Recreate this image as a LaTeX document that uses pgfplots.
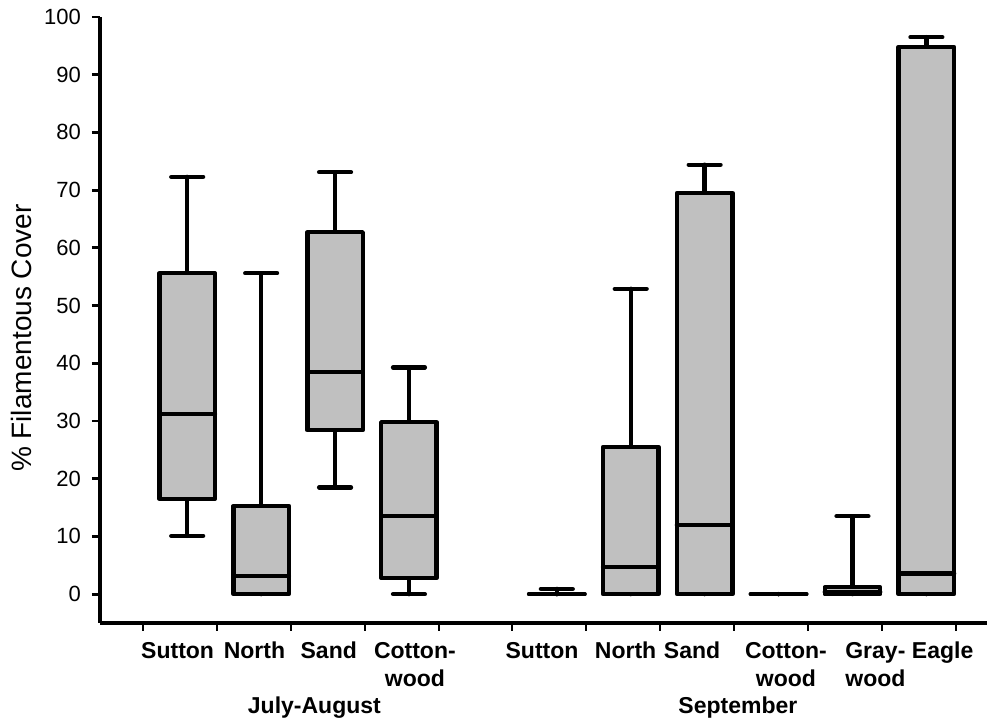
\documentclass[border=0pt]{standalone}
\usepackage{pgfplots}
\pgfplotsset{compat=1.18}
\usepgfplotslibrary{statistics}
\usepackage{fontspec}
\setmainfont{Liberation Sans}
\definecolor{boxgray}{HTML}{C0C0C0}
\begin{document}
\begin{tikzpicture}
\begin{axis}[
  scale only axis,
  width=443.5pt, height=303pt,
  xmin=-0.18, xmax=11.82, ymin=-5, ymax=100,
  clip=false,
  axis lines=left,
  axis line style={-, line width=1.6pt},
  tick align=outside,
  major tick length=4pt,
  ytick={0,10,20,30,40,50,60,70,80,90,100},
  ytick style={line width=1.4pt, black},
  xtick={0.4,1.4,2.4,3.4,4.4,5.4,6.4,7.4,8.4,9.4,10.4,11.4},
  xticklabels={},
  xtick style={line width=1pt, black},
  /pgf/number format/assume math mode=true,
  yticklabel style={font=\fontsize{11}{13}\selectfont, xshift=-2pt},
  extra x ticks={0.87,1.91,2.915,4.08,5.80,6.93,7.83,9.10,10.31,11.22},
  extra x tick labels={{\strut Sutton},{\strut North},{\strut Sand},{\strut Cotton-\\wood},{\strut Sutton},{\strut North},{\strut Sand},{\strut Cotton-\\wood},{\strut Gray-\\wood},{\strut Eagle}},
  extra x tick style={major tick length=0pt, tick label style={font=\fontsize{11.5}{14}\selectfont\bfseries, align=center, anchor=north, yshift=-4.2pt}},
  ylabel={\% Filamentous Cover},
  ylabel style={font=\fontsize{14}{16}\selectfont, at={(axis description cs:-0.088,0.47)}, anchor=center},
  boxplot/draw direction=y,
  boxplot/box extend=0.75,
  boxplot/whisker extend=0.43,
  bx/.style={draw=black, fill=boxgray, line width=2.2pt, line join=round, line cap=round, solid, mark=none},
]
% July-August
\addplot[bx, boxplot prepared={draw position=1, lower whisker=10.1, lower quartile=16.5, median=31.2, upper quartile=55.6, upper whisker=72.3}] coordinates {};
\addplot[bx, boxplot prepared={draw position=2, lower whisker=0, lower quartile=0, median=3.1, upper quartile=15.3, upper whisker=55.6}] coordinates {};
\addplot[bx, boxplot prepared={draw position=3, lower whisker=18.5, lower quartile=28.4, median=38.5, upper quartile=62.7, upper whisker=73.1}] coordinates {};
\addplot[bx, boxplot prepared={draw position=4, lower whisker=0, lower quartile=2.8, median=13.5, upper quartile=29.8, upper whisker=39.3}] coordinates {};
% September
\addplot[bx, boxplot prepared={draw position=6, lower whisker=0, lower quartile=0, median=0, upper quartile=0, upper whisker=0.9}] coordinates {};
\addplot[bx, boxplot prepared={draw position=7, lower whisker=0, lower quartile=0, median=4.7, upper quartile=25.5, upper whisker=52.9}] coordinates {};
\addplot[bx, boxplot prepared={draw position=8, lower whisker=0, lower quartile=0, median=12.0, upper quartile=69.5, upper whisker=74.4}] coordinates {};
\addplot[bx, boxplot prepared={draw position=9, lower whisker=0, lower quartile=0, median=0, upper quartile=0, upper whisker=0}] coordinates {};
\addplot[bx, boxplot prepared={draw position=10, lower whisker=0, lower quartile=0, median=0.4, upper quartile=1.2, upper whisker=13.5}] coordinates {};
\addplot[bx, boxplot prepared={draw position=11, lower whisker=0, lower quartile=0, median=3.6, upper quartile=94.8, upper whisker=96.5}] coordinates {};
\node[anchor=base, font=\fontsize{11.5}{14}\selectfont\bfseries, yshift=-45.5pt] at (axis cs:2.72,-5) {July-August};
\node[anchor=base, font=\fontsize{11.5}{14}\selectfont\bfseries, yshift=-45.5pt] at (axis cs:8.45,-5) {September};
\path (rel axis cs:0,0) ++(-50pt,-50pt) rectangle ++(494.5pt,361.5pt);
\end{axis}
\end{tikzpicture}
\end{document}
